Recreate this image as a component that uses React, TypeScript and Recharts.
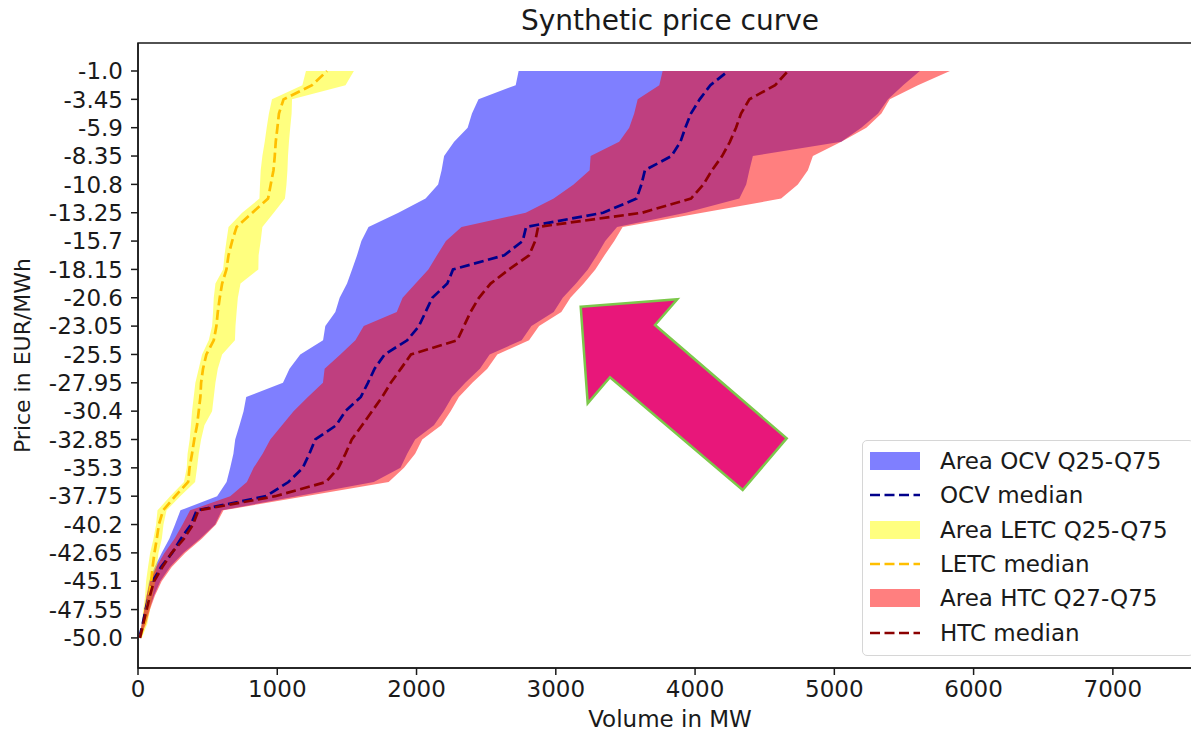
import { ComposedChart, Area, Line, XAxis, YAxis, Legend, ReferenceArea } from "recharts";

// price levels (EUR/MWh), bottom to top
const priceLevels = [
  -50, -48.775, -47.55, -46.325, -45.1, -43.875, -42.65, -41.425, -40.2, -38.975, -37.75,
  -36.525, -35.3, -34.075, -32.85, -31.625, -30.4, -29.175, -27.95, -26.725, -25.5,
  -24.275, -23.05, -21.825, -20.6, -19.375, -18.15, -16.925, -15.7, -14.475, -13.25,
  -12.025, -10.8, -9.575, -8.35, -7.125, -5.9, -4.675, -3.45, -2.225, -1.0,
];

const priceTicks = [
  -50, -47.55, -45.1, -42.65, -40.2, -37.75, -35.3, -32.85, -30.4, -27.95, -25.5,
  -23.05, -20.6, -18.15, -15.7, -13.25, -10.8, -8.35, -5.9, -3.45, -1.0,
];
const priceTickLabels = [
  "-50.0", "-47.55", "-45.1", "-42.65", "-40.2", "-37.75", "-35.3", "-32.85", "-30.4", "-27.95", "-25.5",
  "-23.05", "-20.6", "-18.15", "-15.7", "-13.25", "-10.8", "-8.35", "-5.9", "-3.45", "-1.0",
];
const volumeTicks = [0, 1000, 2000, 3000, 4000, 5000, 6000, 7000];

// volumes in MW per price level
const ocvQ25 = [9, 27, 45, 62, 80, 120, 170, 225, 266, 305, 568, 636, 662, 685, 698, 729, 758, 777, 1041, 1088, 1165, 1329, 1345, 1417, 1448, 1501, 1537, 1573, 1604, 1655, 1870, 2065, 2155, 2180, 2198, 2270, 2367, 2398, 2445, 2712, 2733];
const ocvQ75 = [14, 50, 80, 115, 160, 230, 325, 446, 554, 602, 1141, 1693, 1885, 1933, 1990, 2125, 2195, 2255, 2350, 2455, 2525, 2755, 2825, 2985, 3050, 3145, 3230, 3295, 3355, 3440, 3933, 4318, 4367, 4390, 4415, 5050, 5194, 5314, 5386, 5494, 5614];
const ocvMedian = [9, 34, 55, 80, 105, 165, 245, 308, 380, 422, 920, 1080, 1183, 1231, 1273, 1423, 1489, 1600, 1651, 1699, 1771, 1933, 2017, 2065, 2113, 2221, 2262, 2630, 2762, 2787, 3340, 3580, 3615, 3640, 3830, 3895, 3930, 3970, 4033, 4110, 4238];

const letcQ25 = [9, 27, 38, 51, 58, 72, 87, 111, 130, 140, 231, 330, 350, 356, 371, 380, 388, 400, 412, 436, 460, 508, 532, 539, 544, 556, 611, 621, 635, 650, 748, 872, 876, 881, 893, 910, 924, 940, 962, 1180, 1206];
const letcQ75 = [27, 67, 87, 106, 123, 135, 147, 171, 183, 205, 303, 410, 424, 436, 453, 477, 532, 544, 556, 573, 604, 696, 700, 708, 717, 736, 864, 866, 881, 893, 975, 1055, 1066, 1073, 1077, 1084, 1093, 1103, 1106, 1490, 1550];
const letcMedian = [14, 45, 62, 80, 95, 105, 118, 135, 150, 180, 267, 360, 370, 388, 404, 424, 436, 448, 453, 467, 491, 544, 563, 573, 587, 604, 635, 650, 676, 708, 821, 934, 953, 973, 982, 989, 1001, 1012, 1045, 1250, 1357];

const htcQ25 = [9, 27, 45, 62, 86, 130, 190, 262, 320, 374, 662, 782, 830, 895, 950, 1034, 1117, 1220, 1328, 1340, 1453, 1561, 1621, 1858, 1900, 1993, 2085, 2147, 2211, 2323, 2784, 2985, 3128, 3243, 3250, 3455, 3527, 3563, 3588, 3743, 3767];
const htcQ75 = [14, 58, 86, 122, 170, 242, 338, 458, 560, 614, 1201, 1800, 1910, 1990, 2041, 2178, 2245, 2304, 2401, 2508, 2580, 2808, 2880, 3040, 3105, 3200, 3284, 3350, 3420, 3480, 4050, 4618, 4738, 4810, 4846, 5050, 5230, 5338, 5398, 5600, 5830];
const htcMedian = [14, 38, 62, 86, 115, 175, 242, 330, 395, 434, 985, 1350, 1440, 1490, 1535, 1609, 1681, 1753, 1815, 1888, 1960, 2293, 2340, 2388, 2448, 2532, 2664, 2808, 2852, 2873, 3620, 3971, 4060, 4122, 4194, 4250, 4294, 4330, 4390, 4575, 4667];

const data = priceLevels.map((price, i) => ({
  price,
  ocvArea: [ocvQ25[i], ocvQ75[i]],
  ocvMedian: ocvMedian[i],
  letcArea: [letcQ25[i], letcQ75[i]],
  letcMedian: letcMedian[i],
  htcArea: [htcQ25[i], htcQ75[i]],
  htcMedian: htcMedian[i],
}));

const FONT = "DejaVu Sans, Verdana, sans-serif";
const INK = "#1a1a1a";
const X_MAX = 7640;
const Y_MIN = -52.6;
const Y_MAX = 1.42;
const DASH = "10 4.5";
const LINE_W = 2.7;

const legendItems = [
  { label: "Area OCV Q25-Q75", kind: "area", color: "#0000ff" },
  { label: "OCV median", kind: "line", color: "#00008b" },
  { label: "Area LETC Q25-Q75", kind: "area", color: "#ffff00" },
  { label: "LETC median", kind: "line", color: "#ffbf00" },
  { label: "Area HTC Q27-Q75", kind: "area", color: "#ff0000" },
  { label: "HTC median", kind: "line", color: "#8b0000" },
];

function formatPrice(v: number) {
  const k = priceTicks.findIndex((t) => Math.abs(t - v) < 1e-6);
  return k >= 0 ? priceTickLabels[k] : String(v);
}

function LegendBox() {
  return (
    <div
      style={{
        boxSizing: "border-box",
        width: 332,
        border: "1.5px solid #d6d6d6",
        borderRadius: 5,
        background: "rgba(255,255,255,0.85)",
        padding: "3px 0 5px 7px",
        fontFamily: FONT,
        fontSize: 23,
        color: INK,
      }}
    >
      {legendItems.map((it) => (
        <div key={it.label} style={{ display: "flex", alignItems: "center", height: 34.3, whiteSpace: "nowrap" }}>
          <svg width={50} height={18} style={{ marginRight: 20, flex: "none" }}>
            {it.kind === "area" ? (
              <rect x={0} y={0} width={50} height={18} fill={it.color} fillOpacity={0.5} />
            ) : (
              <line x1={0} y1={9} x2={50} y2={9} stroke={it.color} strokeWidth={LINE_W} strokeDasharray={DASH} />
            )}
          </svg>
          <span>{it.label}</span>
        </div>
      ))}
    </div>
  );
}

export default function App() {
  return (
    <div style={{ position: "absolute", left: 0, top: 0, width: 1191, height: 731, overflow: "hidden", background: "#fff" }}>
      <ComposedChart
        width={1204}
        height={731}
        data={data}
        layout="vertical"
        margin={{ top: 43, right: 2, left: 0, bottom: 0 }}
      >
        <XAxis
          type="number"
          domain={[0, X_MAX]}
          ticks={volumeTicks}
          allowDataOverflow
          height={63}
          tickSize={7}
          tickMargin={6}
          axisLine={{ stroke: INK, strokeWidth: 1.5 }}
          tickLine={{ stroke: INK, strokeWidth: 1.5 }}
          tick={{ fill: INK, fontSize: 23, fontFamily: FONT }}
          label={{ value: "Volume in MW", position: "insideBottom", offset: 4, fill: INK, fontSize: 23, fontFamily: FONT }}
        />
        <YAxis
          type="number"
          dataKey="price"
          reversed
          domain={[Y_MIN, Y_MAX]}
          ticks={priceTicks}
          interval={0}
          tickFormatter={formatPrice}
          width={138}
          tickSize={7}
          tickMargin={8}
          axisLine={{ stroke: INK, strokeWidth: 1.5 }}
          tickLine={{ stroke: INK, strokeWidth: 1.5 }}
          tick={{ fill: INK, fontSize: 23, fontFamily: FONT }}
          label={{
            value: "Price in EUR/MWh",
            angle: -90,
            position: "insideLeft",
            offset: 22,
            fill: INK,
            fontSize: 22,
            fontFamily: FONT,
            style: { textAnchor: "middle" },
          }}
        />
        <ReferenceArea x1={0} x2={X_MAX} y1={Y_MIN} y2={Y_MAX} fill="none" stroke={INK} strokeWidth={1.5} />

        <Area dataKey="ocvArea" type="linear" fill="#0000ff" fillOpacity={0.5} stroke="none" dot={false} activeDot={false} isAnimationActive={false} />
        <Area dataKey="letcArea" type="linear" fill="#ffff00" fillOpacity={0.5} stroke="none" dot={false} activeDot={false} isAnimationActive={false} />
        <Area dataKey="htcArea" type="linear" fill="#ff0000" fillOpacity={0.5} stroke="none" dot={false} activeDot={false} isAnimationActive={false} />

        <Line dataKey="ocvMedian" type="linear" stroke="#00008b" strokeWidth={LINE_W} strokeDasharray={DASH} dot={false} activeDot={false} isAnimationActive={false} />
        <Line dataKey="letcMedian" type="linear" stroke="#ffbf00" strokeWidth={LINE_W} strokeDasharray={DASH} dot={false} activeDot={false} isAnimationActive={false} />
        <Line dataKey="htcMedian" type="linear" stroke="#8b0000" strokeWidth={LINE_W} strokeDasharray={DASH} dot={false} activeDot={false} isAnimationActive={false} />

        <Legend
          layout="vertical"
          align="center"
          verticalAlign="middle"
          content={() => <LegendBox />}
          wrapperStyle={{ left: 862, top: 440, width: 332, height: "auto" }}
        />
      </ComposedChart>

      {/* title and the annotation arrow */}
      <svg width={1191} height={731} style={{ position: "absolute", left: 0, top: 0, pointerEvents: "none" }}>
        <text x={670} y={30} textAnchor="middle" fontFamily={FONT} fontSize={28} fill={INK}>
          Synthetic price curve
        </text>
        <polygon
          points="580.7,306.7 677.3,299.3 655,325 786.7,438.3 742.7,490 610,377.3 587.7,403.3"
          fill="#e8177a"
          stroke="#7cc84a"
          strokeWidth={2.5}
          strokeLinejoin="miter"
        />
      </svg>
    </div>
  );
}
